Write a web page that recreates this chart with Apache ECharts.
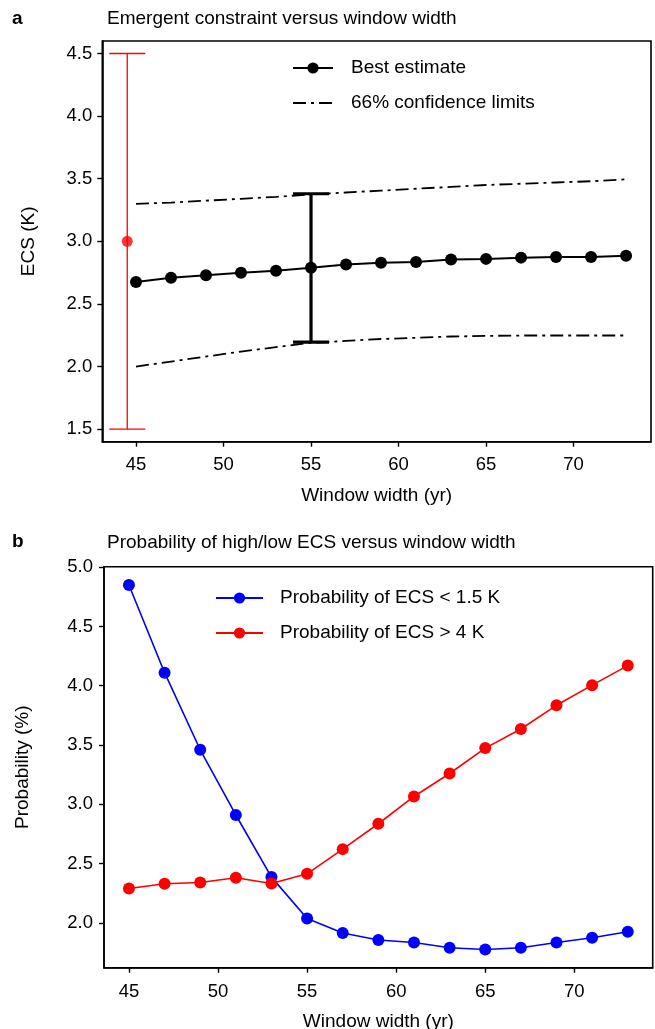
<!DOCTYPE html>
<html>
<head>
<meta charset="utf-8">
<title>ECS versus window width</title>
<script src="https://cdn.jsdelivr.net/npm/echarts@6/dist/echarts.min.js"></script>
<style>
  html, body { margin: 0; padding: 0; background: #fff; }
  #chart { width: 655px; height: 1029px; }
</style>
</head>
<body>
<div id="chart"></div>
<script>
// Window widths (yr) used for the emergent constraint
const windowWidth = [45, 47, 49, 51, 53, 55, 57, 59, 61, 63, 65, 67, 69, 71, 73];

// Panel a: ECS best estimate and 66% confidence limits (K)
const bestEstimate = [2.675, 2.71, 2.73, 2.75, 2.765, 2.79, 2.815, 2.83, 2.835, 2.855, 2.86, 2.87, 2.875, 2.875, 2.885];
const upperLimit   = [3.30, 3.31, 3.325, 3.34, 3.355, 3.375, 3.39, 3.405, 3.42, 3.435, 3.45, 3.46, 3.47, 3.48, 3.495];
const lowerLimit   = [2.00, 2.04, 2.08, 2.12, 2.155, 2.19, 2.205, 2.22, 2.23, 2.24, 2.245, 2.248, 2.248, 2.248, 2.248];

// Error bar on the best estimate at 55 yr: [x, low, high]
const bestRange55 = [55, 2.195, 3.38];
// Reference range shown in red: [x, centre, low, high]
const referenceRange = [44.5, 3.0, 1.5, 4.5];

// Panel b: probability (%) of low and high ECS
const probLowECS  = [4.85, 4.11, 3.46, 2.91, 2.386, 2.037, 1.914, 1.855, 1.835, 1.79, 1.776, 1.79, 1.835, 1.874, 1.925];
const probHighECS = [2.29, 2.33, 2.34, 2.38, 2.332, 2.414, 2.622, 2.836, 3.066, 3.26, 3.474, 3.635, 3.835, 4.005, 4.17];

// Tick values
const xTicks  = [45, 50, 55, 60, 65, 70];
const yTicksA = [1.5, 2.0, 2.5, 3.0, 3.5, 4.0, 4.5];
const yTicksB = [2.0, 2.5, 3.0, 3.5, 4.0, 4.5, 5.0];

const FONT = 'Liberation Sans';
const TICK_SIZE = 18.5;
const TEXT_SIZE = 19;
const pair = (xs, ys) => xs.map((x, i) => [x, ys[i]]);

const tickStyle = (values) => ({
  show: true, inside: false, length: 5,
  lineStyle: { color: '#000', width: 1.4 },
  customValues: values
});

function valueAxis(extra) {
  return Object.assign({
    type: 'value',
    axisLine: { show: true, onZero: false, lineStyle: { color: '#000', width: 1.6 } },
    splitLine: { show: false },
    nameTextStyle: { color: '#000', fontFamily: FONT, fontSize: TEXT_SIZE },
    nameLocation: 'middle'
  }, extra);
}

// Vertical error bar with caps, placed through the axis scales
function errorBarItem(color, width, capHalf) {
  return function (params, api) {
    const x = api.value(0);
    const lo = api.coord([x, api.value(1)]);
    const hi = api.coord([x, api.value(2)]);
    const style = { stroke: color, lineWidth: width, fill: null };
    return {
      type: 'group',
      children: [
        { type: 'line', shape: { x1: lo[0], y1: lo[1], x2: hi[0], y2: hi[1] }, style },
        { type: 'line', shape: { x1: lo[0] - capHalf, y1: lo[1], x2: lo[0] + capHalf, y2: lo[1] }, style },
        { type: 'line', shape: { x1: hi[0] - capHalf, y1: hi[1], x2: hi[0] + capHalf, y2: hi[1] }, style }
      ]
    };
  };
}

const dashDot = [13, 5, 3, 5];
const titleStyle = { fontFamily: FONT, fontSize: TEXT_SIZE, fontWeight: 'normal', color: '#000' };
const panelStyle = { fontFamily: FONT, fontSize: 19, fontWeight: 'bold', color: '#000' };
const legendText = { fontFamily: FONT, fontSize: TEXT_SIZE, color: '#000', lineHeight: 22 };

const option = {
  animation: false,
  backgroundColor: '#fff',
  textStyle: { fontFamily: FONT },
  title: [
    { text: 'a', left: 7, top: 4, textStyle: panelStyle },
    { text: 'Emergent constraint versus window width', left: 102, top: 4, textStyle: titleStyle },
    { text: 'b', left: 7, top: 527, textStyle: panelStyle },
    { text: 'Probability of high/low ECS versus window width', left: 102, top: 528, textStyle: titleStyle }
  ],
  grid: [
    { left: 102.3, top: 41, width: 548.7, height: 400.7, outerBoundsMode: 'none', containLabel: false,
      show: true, borderColor: '#000', borderWidth: 1.6, backgroundColor: 'transparent' },
    { left: 104, top: 566.7, width: 548.7, height: 401, outerBoundsMode: 'none', containLabel: false,
      show: true, borderColor: '#000', borderWidth: 1.6, backgroundColor: 'transparent' }
  ],
  legend: [
    {
      left: 287, top: 52, orient: 'vertical', itemWidth: 40, itemHeight: 14, itemGap: 13,
      data: [
        'Best estimate',
        // the confidence-limit key shows only the dash-dot stroke
        { name: '66% confidence limits', itemStyle: { opacity: 0 } }
      ],
      textStyle: Object.assign({ padding: [0, 0, 0, 13] }, legendText)
    },
    {
      left: 210, top: 582, orient: 'vertical', itemWidth: 47, itemHeight: 14, itemGap: 13,
      data: ['Probability of ECS < 1.5 K', 'Probability of ECS > 4 K'],
      textStyle: Object.assign({ padding: [0, 0, 0, 12] }, legendText)
    }
  ],
  xAxis: [
    valueAxis({
      gridIndex: 0, min: 43.075, max: 74.425,
      name: 'Window width (yr)', nameGap: 45,
      axisTick: tickStyle(xTicks),
      axisLabel: { color: '#000', fontFamily: FONT, fontSize: TICK_SIZE, margin: 14, customValues: xTicks }
    }),
    valueAxis({
      gridIndex: 1, min: 43.6, max: 74.4,
      name: 'Window width (yr)', nameGap: 45,
      axisTick: tickStyle(xTicks),
      axisLabel: { color: '#000', fontFamily: FONT, fontSize: TICK_SIZE, margin: 15, customValues: xTicks }
    })
  ],
  yAxis: [
    valueAxis({
      gridIndex: 0, min: 1.4, max: 4.6,
      name: 'ECS (K)', nameGap: 64,
      axisTick: tickStyle(yTicksA),
      axisLabel: { color: '#000', fontFamily: FONT, fontSize: TICK_SIZE, margin: 10, customValues: yTicksA, formatter: v => v.toFixed(1) }
    }),
    valueAxis({
      gridIndex: 1, min: 1.622, max: 5.004,
      name: 'Probability (%)', nameGap: 72,
      axisTick: tickStyle(yTicksB),
      axisLabel: { color: '#000', fontFamily: FONT, fontSize: TICK_SIZE, margin: 11, customValues: yTicksB, formatter: v => v.toFixed(1) }
    })
  ],
  series: [
    {
      name: '66% confidence limits', type: 'line', xAxisIndex: 0, yAxisIndex: 0,
      data: pair(windowWidth, upperLimit), showSymbol: false, symbol: 'none',
      lineStyle: { color: '#000', width: 1.8, type: dashDot }, itemStyle: { color: '#000' }, z: 2
    },
    {
      name: '66% confidence limits', type: 'line', xAxisIndex: 0, yAxisIndex: 0,
      data: pair(windowWidth, lowerLimit), showSymbol: false, symbol: 'none',
      lineStyle: { color: '#000', width: 1.8, type: dashDot }, itemStyle: { color: '#000' }, z: 2
    },
    {
      name: 'Best estimate', type: 'line', xAxisIndex: 0, yAxisIndex: 0,
      data: pair(windowWidth, bestEstimate), symbol: 'circle', symbolSize: 12,
      lineStyle: { color: '#000', width: 2 }, itemStyle: { color: '#000' }, z: 3
    },
    {
      type: 'custom', xAxisIndex: 0, yAxisIndex: 0,
      renderItem: errorBarItem('#000', 3.2, 18),
      encode: { x: 0, y: [1, 2] },
      data: [bestRange55], z: 4, silent: true
    },
    {
      type: 'custom', xAxisIndex: 0, yAxisIndex: 0,
      renderItem: errorBarItem('#ff0000', 1.3, 18),
      encode: { x: 0, y: [1, 2] },
      data: [[referenceRange[0], referenceRange[2], referenceRange[3]]], z: 4, silent: true
    },
    {
      type: 'scatter', xAxisIndex: 0, yAxisIndex: 0,
      data: [[referenceRange[0], referenceRange[1]]], symbol: 'circle', symbolSize: 11,
      itemStyle: { color: '#ff0000' }, z: 5, silent: true
    },
    {
      name: 'Probability of ECS < 1.5 K', type: 'line', xAxisIndex: 1, yAxisIndex: 1,
      data: pair(windowWidth, probLowECS), symbol: 'circle', symbolSize: 12,
      lineStyle: { color: '#0000ff', width: 1.6 }, itemStyle: { color: '#0000ff' }, z: 3
    },
    {
      name: 'Probability of ECS > 4 K', type: 'line', xAxisIndex: 1, yAxisIndex: 1,
      data: pair(windowWidth, probHighECS), symbol: 'circle', symbolSize: 12,
      lineStyle: { color: '#ff0000', width: 1.6 }, itemStyle: { color: '#ff0000' }, z: 4
    }
  ]
};

const chart = echarts.init(document.getElementById('chart'), null, { renderer: 'canvas' });
chart.setOption(option);
</script>
</body>
</html>
